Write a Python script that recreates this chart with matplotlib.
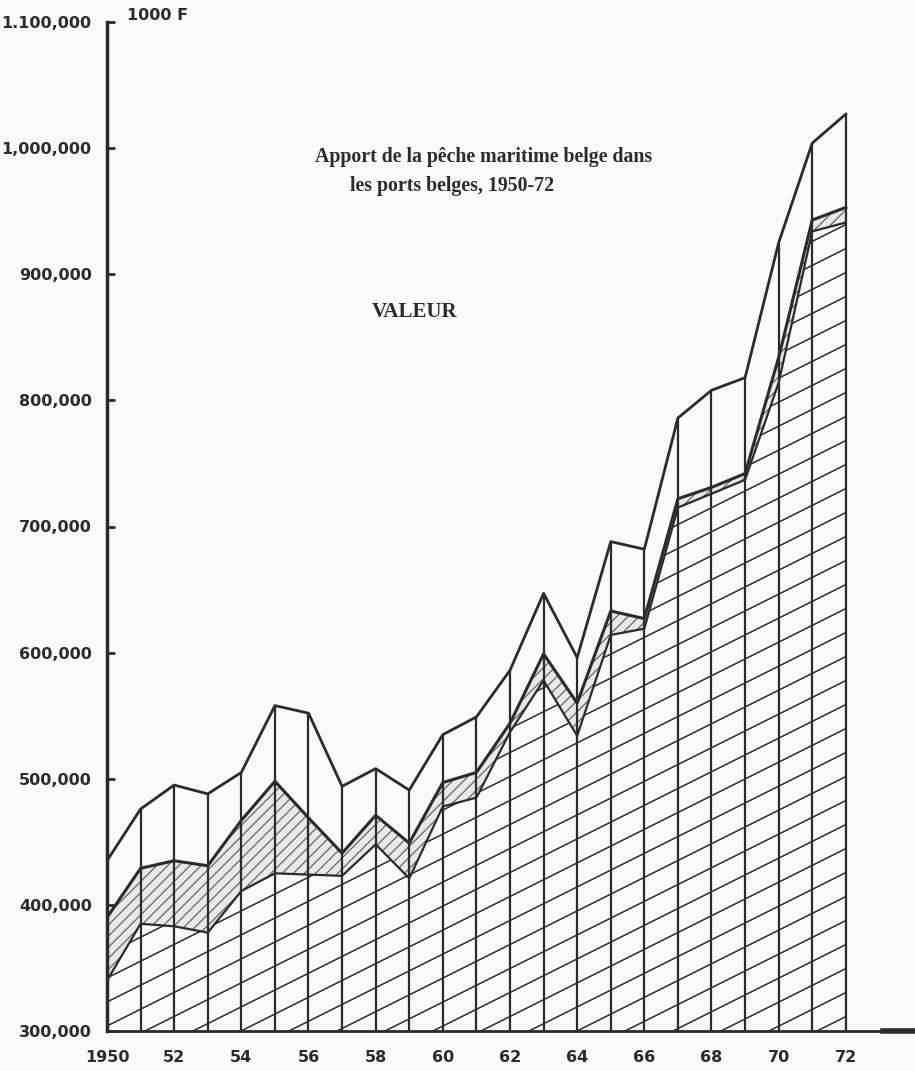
import numpy as np
import matplotlib
matplotlib.use("Agg")
import matplotlib.pyplot as plt
from matplotlib.collections import LineCollection

# Apport de la pêche maritime belge, valeur en 1000 F
years = list(range(1950, 1973))
total = [435000, 476000, 495000, 488000, 505000, 558000, 552000, 494000,
         508000, 491000, 535000, 549000, 586000, 647000, 596000, 688000,
         682000, 786000, 808000, 818000, 925000, 1004000, 1027000]
upper = [390000, 429000, 435000, 431000, 467000, 498000, 469000, 441000,
         471000, 449000, 497000, 505000, 544000, 599000, 560000, 633000,
         627000, 722000, 731000, 742000, 834000, 943000, 953000]
lower = [340000, 385000, 383000, 378000, 411000, 425000, 424000, 423000,
         448000, 421000, 478000, 485000, 537000, 578000, 534000, 614000,
         619000, 715000, 726000, 737000, 814000, 934000, 941000]

y_ticks = [300000, 400000, 500000, 600000, 700000, 800000, 900000, 1000000, 1100000]
y_labels = ["300,000", "400,000", "500,000", "600,000", "700,000",
            "800,000", "900,000", "1,000,000", "1.100,000"]
x_ticks = list(range(1950, 1973, 2))
x_labels = ["1950", "52", "54", "56", "58", "60", "62", "64", "66", "68", "70", "72"]

ink = "#2b2b2b"
plt.rcParams["hatch.linewidth"] = 0.9

W, H = 915, 1071
fig = plt.figure(figsize=(W / 100, H / 100), dpi=100)
fig.patch.set_facecolor("#fafafa")
ax = fig.add_axes([107 / W, 40 / H, (913 - 107) / W, (1031 - 22) / H])
ax.set_facecolor("none")
ax.set_xlim(1950, 1974)
ax.set_ylim(300000, 1100000)

# bottom band: sparse low-angle hatching
reg1 = ax.fill_between(years, 300000, lower, facecolor="none", edgecolor="none")
bb = ax.get_position()
wp, hp = bb.width * W, bb.height * H
segs = []
for c in np.arange(-0.5 * wp, hp, 24):
    segs.append([(0, c / hp), (1, (c + 0.5 * wp) / hp)])
lc = LineCollection(segs, colors=ink, linewidths=1.1, transform=ax.transAxes)
ax.add_collection(lc)
lc.set_clip_path(reg1.get_paths()[0], ax.transData)

# middle band: dense hatching
ax.fill_between(years, lower, upper, facecolor="#e8e8e8", edgecolor="#666666",
                hatch="///", linewidth=0)

ax.plot(years, lower, color=ink, lw=1.6)
ax.plot(years, upper, color=ink, lw=2.2)
ax.plot(years, total, color=ink, lw=2.0)
ax.vlines(years, 300000, total, color=ink, lw=1.6)

for s in ["top", "right"]:
    ax.spines[s].set_visible(False)
ax.spines["left"].set_linewidth(2.5)
ax.spines["left"].set_color(ink)
ax.spines["bottom"].set_linewidth(2.0)
ax.spines["bottom"].set_color(ink)
ax.plot([1973.1, 1974], [300000, 300000], color=ink, lw=4, clip_on=False)

ax.set_yticks(y_ticks)
ax.set_yticklabels(y_labels)
ax.tick_params(axis="y", direction="in", length=6, width=2, color=ink, pad=11,
               labelsize=11.5, labelcolor=ink)
ax.set_xticks(x_ticks)
ax.set_xticklabels(x_labels)
ax.tick_params(axis="x", length=0, pad=14, labelsize=11.5, labelcolor=ink)
for lab in ax.get_xticklabels() + ax.get_yticklabels():
    lab.set_fontweight("bold")

fig.text(127 / W, 1 - 16 / H, "1000 F", fontsize=11.5, fontweight="bold",
         color=ink, va="center", ha="left")
fig.text(315 / W, 1 - 157 / H, "Apport de la pêche maritime belge dans",
         family="Liberation Serif", fontsize=14.3, fontweight="bold", color=ink,
         va="center", ha="left")
fig.text(350 / W, 1 - 186 / H, "les ports belges, 1950-72",
         family="Liberation Serif", fontsize=14.3, fontweight="bold", color=ink,
         va="center", ha="left")
fig.text(372 / W, 1 - 312 / H, "VALEUR", family="Liberation Serif",
         fontsize=15, fontweight="bold", color=ink, va="center", ha="left")

fig.savefig("out.png", dpi=100, facecolor=fig.get_facecolor())
